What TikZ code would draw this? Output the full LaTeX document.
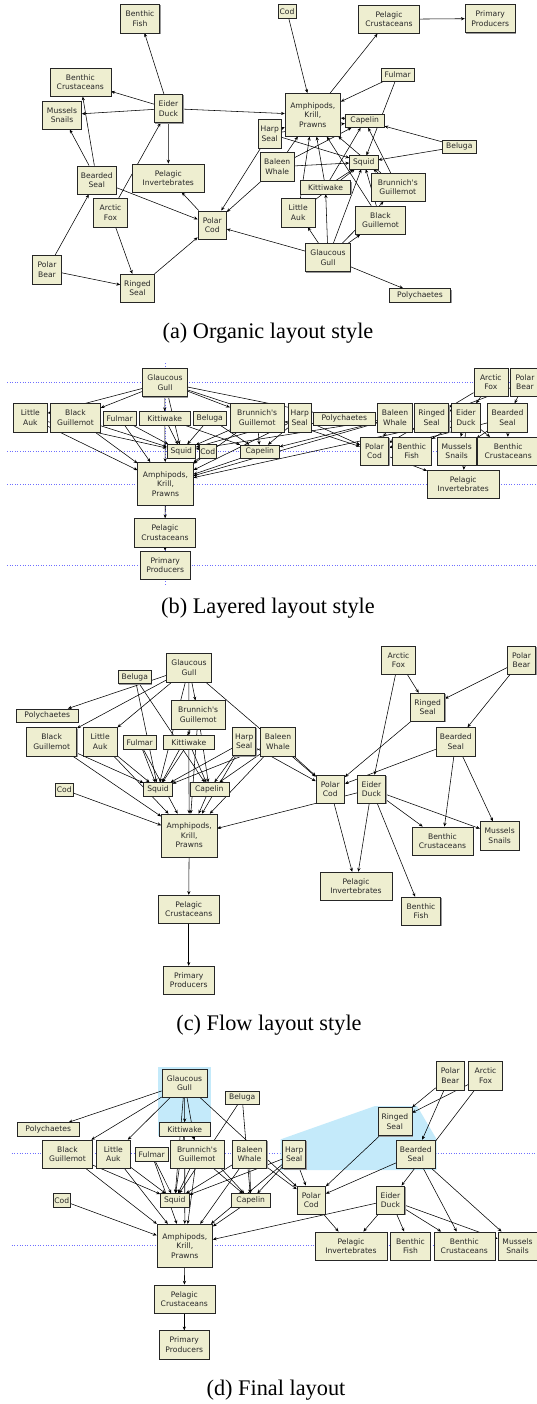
\documentclass[tikz,border=0pt]{standalone}
\usepackage{fontspec}
\setmainfont{Liberation Serif}
\newfontfamily\webfont{DejaVu Sans}
\usepackage{xcolor}
\usepackage{tikz}
\usetikzlibrary{arrows.meta, shadows}

\definecolor{boxfill}{RGB}{238,238,208}
\definecolor{guide}{RGB}{110,110,255}
\definecolor{hilite}{RGB}{196,234,250}

\pgfdeclarelayer{guides}
\pgfdeclarelayer{links}
\pgfsetlayers{guides,links,main}

% who eats whom: predator/prey
\newcommand\foodweb{gull/poly, gull/bguil, gull/auk, gull/kitti, gull/brun, gull/squid, gull/pcod,
  beluga/squid, beluga/capelin, fulmar/squid, fulmar/amph,
  kitti/squid, kitti/capelin, kitti/amph, brun/squid, brun/capelin, brun/amph,
  bguil/squid, bguil/amph, auk/squid, auk/amph,
  harp/squid, harp/capelin, harp/amph, harp/pcod,
  baleen/squid, baleen/capelin, baleen/amph, baleen/pcod,
  cod/amph, capelin/amph,
  eider/amph, eider/pinv, eider/bfish, eider/bcrust, eider/mussels,
  amph/pcrust, pcrust/prim,
  afox/ringed, afox/eider, pbear/ringed, pbear/bearded, ringed/pcod,
  bearded/pcod, bearded/bcrust, bearded/mussels, pcod/pinv}

\tikzset{
  sp/.style={draw=black!85, fill=boxfill, line width=0.6pt, inner sep=0pt, align=center,
    font=\webfont\fontsize{7.6}{9.5}\selectfont, text=black!85,
    drop shadow={shadow xshift=0.9pt, shadow yshift=-0.9pt, fill=black!40, opacity=1}},
  eats/.style={-{Stealth[length=3.8pt,width=3.2pt]}, line width=0.55pt, black},
  guideline/.style={guide, dotted, line width=0.6pt},
  caption/.style={font=\fontsize{22.3}{26}\selectfont},
  oneline/.style={minimum height=13.3pt},
  twoline/.style={minimum height=28.3pt},
  threeline/.style={minimum height=43pt},
  gull/.style={twoline, minimum width=45pt, node contents={Glaucous\\Gull}},
  poly/.style={oneline, minimum width=61.5pt, node contents={Polychaetes}},
  bguil/.style={twoline, minimum width=50pt, node contents={Black\\Guillemot}},
  auk/.style={twoline, minimum width=34pt, node contents={Little\\Auk}},
  kitti/.style={oneline, minimum width=50.5pt, node contents={Kittiwake}},
  brun/.style={twoline, minimum width=54pt, node contents={Brunnich's\\Guillemot}},
  beluga/.style={oneline, minimum width=33.5pt, node contents={Beluga}},
  fulmar/.style={oneline, minimum width=33.5pt, node contents={Fulmar}},
  harp/.style={twoline, minimum width=23pt, node contents={Harp\\Seal}},
  baleen/.style={twoline, minimum width=34.5pt, node contents={Baleen\\Whale}},
  squid/.style={oneline, minimum width=28.5pt, node contents={Squid}},
  capelin/.style={oneline, minimum width=39pt, node contents={Capelin}},
  cod/.style={oneline, minimum width=17.7pt, node contents={Cod}},
  amph/.style={threeline, minimum width=55.5pt, node contents={Amphipods,\\Krill,\\Prawns}},
  pcrust/.style={twoline, minimum width=61pt, node contents={Pelagic\\Crustaceans}},
  prim/.style={twoline, minimum width=50.5pt, node contents={Primary\\Producers}},
  afox/.style={twoline, minimum width=34pt, node contents={Arctic\\Fox}},
  pbear/.style={twoline, minimum width=28.5pt, node contents={Polar\\Bear}},
  ringed/.style={twoline, minimum width=34pt, node contents={Ringed\\Seal}},
  bearded/.style={twoline, minimum width=39.5pt, node contents={Bearded\\Seal}},
  eider/.style={twoline, minimum width=28.5pt, node contents={Eider\\Duck}},
  pcod/.style={twoline, minimum width=28.5pt, node contents={Polar\\Cod}},
  pinv/.style={twoline, minimum width=72pt, node contents={Pelagic\\Invertebrates}},
  bfish/.style={twoline, minimum width=39.5pt, node contents={Benthic\\Fish}},
  bcrust/.style={twoline, minimum width=61pt, node contents={Benthic\\Crustaceans}},
  mussels/.style={twoline, minimum width=39pt, node contents={Mussels\\Snails}}
}

\begin{document}
\begin{tikzpicture}[x=1pt, y=-1pt]
\useasboundingbox (0,0) rectangle (536,1404);

% guidelines and highlighted groups
\begin{pgfonlayer}{guides}
\foreach \y in {382.3, 451.3, 484, 565}
  \draw[guideline] (7,\y) -- (536,\y);
\draw[guideline] (165.7,363) -- (165.7,585);
\foreach \y in {1153.3, 1245}
  \draw[guideline] (11.7,\y) -- (536,\y);
\fill[hilite] (157.5,1066.5) rectangle (210.5,1136);
\fill[hilite] (280.7,1139.3) -- (375,1106) -- (417,1106) -- (436.7,1139.3) -- (436.7,1170) -- (280.7,1170) -- cycle;
\end{pgfonlayer}

% (a) organic
\foreach \n/\x/\y in {eider/168.5/108.5, bfish/140/18.7, bcrust/80.3/82.2, mussels/62/115,
    bearded/96.8/180, pinv/168.3/178, afox/110.5/212.8, pcod/212.2/225, pbear/47/269.8,
    ringed/137.5/288.3, cod/287/11.3, pcrust/389/19.3, prim/490.3/18.5, fulmar/397.7/74.7,
    amph/312.8/114.8, capelin/364.7/120.8, harp/269.7/133.7, beluga/459.3/146.5,
    baleen/277.2/166.8, squid/363.8/162.3, kitti/325.5/187.3, brun/397.8/187.3,
    auk/298.2/212.8, bguil/380.5/220.3, gull/328/257.5, poly/420/295.3}
  \node (a\n) at (\x,\y) [sp, \n];

% (b) layered
\foreach \n/\x/\y in {gull/165/382.5, auk/30.3/417.8, bguil/75.5/417.8, fulmar/119.7/418.2,
    kitti/164.7/418.2, beluga/209.7/418.2, brun/257.2/417.8, harp/299.7/417.8,
    poly/344.3/418.5, baleen/395/417.8, ringed/431.7/417.8, eider/466/417.8,
    bearded/507.5/417.8, afox/490.8/382.3, pbear/525/382.3, squid/181.3/451.3,
    cod/207.7/451.3, capelin/259.8/451.7, pcod/374.5/451.3, bfish/411.7/451.3,
    mussels/456.7/451.3, bcrust/508.2/451.3, pinv/463.2/484.3, amph/165.5/483.8,
    pcrust/165/532.7, prim/165.2/565.2}
  \node (b\n) at (\x,\y) [sp, \n];

% (c) flow
\foreach \n/\x/\y in {gull/189/667.8, beluga/134.8/677, poly/47.2/715.5, brun/198.2/714.8,
    bguil/51.7/741.8, auk/100.2/741.8, fulmar/139.7/742.3, kitti/188.8/742.3,
    harp/244.2/741.5, baleen/278/741.7, cod/64.3/789.7, squid/158/789.3,
    capelin/209.3/789.3, amph/189.2/835.5, pcrust/188.7/909.3, prim/188.7/980.3,
    afox/398.5/660.3, pbear/521.5/660.3, ringed/427.7/707.3, bearded/455.8/741.7,
    pcod/330.3/789.2, eider/371.5/789.2, bcrust/442.5/841, mussels/499.7/835.8,
    pinv/356/886.2, bfish/421/911.2}
  \node (c\n) at (\x,\y) [sp, \n];

% (d) final
\foreach \n/\x/\y in {gull/184.5/1083.2, beluga/242.2/1097.8, poly/48.2/1129.2,
    kitti/184.7/1129.2, bguil/67.5/1154.2, auk/113.3/1154.2, fulmar/151.7/1154.2,
    brun/197/1154.2, baleen/249.5/1154.2, harp/294.2/1154.5, cod/61.7/1200.3,
    squid/174.7/1200.3, capelin/250.7/1200.3, amph/184.8/1245.7, pcrust/184.3/1299,
    prim/184.3/1344.8, pbear/450.3/1075.8, afox/485.5/1075.8, ringed/394.8/1121.5,
    bearded/415.8/1154.2, pcod/311.3/1200, eider/390.5/1200, pinv/351/1246,
    bfish/410.5/1246, bcrust/464.3/1246, mussels/517.5/1246}
  \node (d\n) at (\x,\y) [sp, \n];

\begin{pgfonlayer}{links}
\foreach \p in {a,b,c,d}
  \foreach \s/\t in \foodweb
    \draw[eats] (\p\s) -- (\p\t);
\end{pgfonlayer}

\node[caption] (capa) at (268,333) {(a) Organic layout style};
\node[caption] (capb) at (268,608) {(b) Layered layout style};
\node[caption] (capc) at (269,1025) {(c) Flow layout style};
\node[caption] (capd) at (276,1390) {(d) Final layout};
\end{tikzpicture}
\end{document}
